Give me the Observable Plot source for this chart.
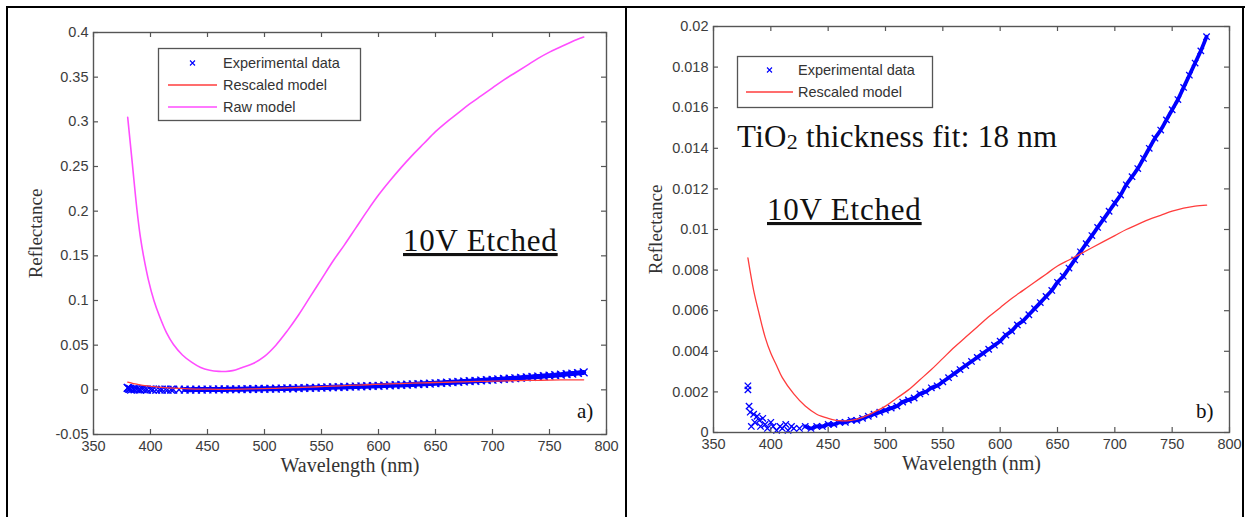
<!DOCTYPE html>
<html><head><meta charset="utf-8">
<script src="https://cdn.jsdelivr.net/npm/d3@7"></script>
<script src="https://cdn.jsdelivr.net/npm/@observablehq/plot@0.6"></script>
<style>
body{margin:0;background:#fff;}
#wrap{position:relative;width:1245px;height:517px;overflow:hidden;background:#fff;}
.panel{position:absolute;top:0;}
.bar{position:absolute;background:#000;z-index:3;}
#ov{position:absolute;left:0;top:0;z-index:2;pointer-events:none;}
</style>
</head><body>
<div id="wrap">
  <div class="panel" id="pa" style="left:0px"></div>
  <div class="panel" id="pb" style="left:627px"></div>
  <div class="bar" style="left:6px;top:6px;width:2px;height:511px"></div>
  <div class="bar" style="left:6px;top:6px;width:1239px;height:2px"></div>
  <div class="bar" style="left:625px;top:6px;width:2px;height:511px"></div>
  <div class="bar" style="left:1242px;top:6px;width:2px;height:511px"></div>
</div>
<script>
// ---------- data ----------
const xTicks = [350, 400, 450, 500, 550, 600, 650, 700, 750, 800];
const yTicksA = [-0.05, 0, 0.05, 0.1, 0.15, 0.2, 0.25, 0.3, 0.35, 0.4];
const yTicksB = [0, 0.002, 0.004, 0.006, 0.008, 0.01, 0.012, 0.014, 0.016, 0.018, 0.02];

// Experimental data (wavelength nm, reflectance)
const expW = [380, 380, 381, 382, 383, 385, 386, 388, 390, 391, 393, 395, 397, 400, 402, 405, 408, 410, 413, 415, 418,
  420, 425, 430, 435, 440, 445, 450, 455, 460, 465, 470, 475, 480, 485, 490, 495, 500,
  505, 510, 515, 520, 525, 530, 535, 540, 545, 550, 555, 560, 565, 570, 575, 580, 585, 590, 595, 600,
  605, 610, 615, 620, 625, 630, 635, 640, 645, 650, 655, 660, 665, 670, 675, 680, 685, 690, 695, 700,
  705, 710, 715, 720, 725, 730, 735, 740, 745, 750, 755, 760, 765, 770, 775, 780];
const expR = [0.0023, 0.0021, 0.0013, 0.0010, 0.0003, 0.0009, 0.0005, 0.0008, 0.0006, 0.0003, 0.0007, 0.0004, 0.0002, 0.0005, 0.0003, 0.0001, 0.0003, 0.0002, 0.0004, 0.0001, 0.0003,
  0.0002, 0.0002, 0.0003, 0.0002, 0.0003, 0.0003, 0.0004, 0.0004, 0.0005, 0.0005, 0.0006, 0.0006, 0.0007, 0.0008, 0.0009, 0.0010, 0.0011,
  0.0012, 0.0013, 0.0015, 0.0016, 0.0017, 0.0019, 0.0020, 0.0022, 0.0023, 0.0025, 0.0027, 0.0029, 0.0031, 0.0033, 0.0035, 0.0037, 0.0039, 0.0041, 0.0043, 0.0045,
  0.0048, 0.0050, 0.0053, 0.0055, 0.0058, 0.0061, 0.0064, 0.0067, 0.0070, 0.0074, 0.0077, 0.0081, 0.0085, 0.0089, 0.0093, 0.0097, 0.0101, 0.0105, 0.0109, 0.0113,
  0.0117, 0.0122, 0.0126, 0.0130, 0.0135, 0.0140, 0.0145, 0.0149, 0.0154, 0.0159, 0.0164, 0.0170, 0.0176, 0.0182, 0.0188, 0.0195];

// Rescaled model
const rescW = [380, 385, 390, 395, 400, 405, 410, 420, 430, 440, 450, 460, 470, 480, 490, 500, 510, 520, 530, 540, 550,
  560, 570, 580, 590, 600, 610, 620, 630, 640, 650, 660, 670, 680, 690, 700, 710, 720, 730, 740, 750, 760, 770, 780];
const rescR = [0.0086, 0.0070, 0.0058, 0.0047, 0.0039, 0.0033, 0.0027, 0.0019, 0.0013, 0.0009, 0.0007, 0.00058, 0.0006, 0.00075, 0.0010, 0.0013, 0.0017, 0.0021, 0.0026, 0.0031, 0.00365,
  0.0042, 0.0047, 0.0052, 0.0057, 0.00615, 0.0066, 0.0070, 0.0074, 0.0078, 0.0082, 0.0085, 0.0088, 0.0091, 0.0094, 0.0097, 0.0100, 0.01025, 0.0105, 0.0107, 0.0109, 0.01105, 0.01115, 0.0112];

// Raw model
const rawW = [380, 384, 388, 391, 394, 398, 403, 408, 414, 420, 428, 436, 444, 452, 460, 466, 472, 480, 490, 500, 510, 520, 530, 540, 550,
  560, 570, 580, 590, 600, 610, 620, 630, 640, 650, 660, 670, 680, 690, 700, 710, 720, 730, 740, 750, 760, 770, 780];
const rawR = [0.305, 0.254, 0.203, 0.172, 0.149, 0.124, 0.100, 0.082, 0.064, 0.051, 0.039, 0.031, 0.025, 0.022, 0.0207, 0.0205, 0.0215, 0.0248, 0.0295, 0.0375, 0.050, 0.066, 0.084, 0.104, 0.124,
  0.144, 0.162, 0.181, 0.200, 0.218, 0.234, 0.249, 0.263, 0.276, 0.289, 0.300, 0.310, 0.320, 0.329, 0.338, 0.347, 0.355, 0.363, 0.371, 0.378, 0.384, 0.390, 0.395];

const legendA = ["Experimental data", "Rescaled model", "Raw model"];
const legendB = ["Experimental data", "Rescaled model"];
const xLabel = "Wavelength (nm)";
const yLabel = "Reflectance";

// ---------- build ----------
const exp = expW.map((w, i) => ({w, r: expR[i]}));
const resc = rescW.map((w, i) => ({w, r: rescR[i]}));
const raw = rawW.map((w, i) => ({w, r: rawR[i]}));

const BLUE = "#0000ff", RED = "#ff3c3c", MAG = "#ff4dff", AX = "#555";
const fmt = d => String(parseFloat((+d).toFixed(4)));
const SANS = "Liberation Sans, Arial, sans-serif";
const SERIF = "Liberation Serif, Times New Roman, serif";

function panel({width, ml, mr, mt, mb, yDomain, yTicks, showRaw, dotR, band}) {
  const y0 = yDomain[0], y1 = yDomain[1];
  const marks = [
    // dense run of experimental markers: drawn as a band through the points plus the markers
    Plot.line(exp, {filter: d => d.w >= 430, x: "w", y: "r", stroke: BLUE, strokeWidth: band, curve: "catmull-rom"}),
    Plot.dot(exp, {x: "w", y: "r", symbol: "times", r: dotR, stroke: BLUE, strokeWidth: 1.3}),
    Plot.line(resc, {x: "w", y: "r", stroke: RED, strokeWidth: 1.3, curve: "catmull-rom"})
  ];
  if (showRaw) marks.push(Plot.line(raw, {x: "w", y: "r", stroke: MAG, strokeWidth: 1.6, curve: "catmull-rom"}));
  marks.push(
    Plot.frame({stroke: AX, strokeWidth: 1.4}),
    // inward ticks (MATLAB style)
    Plot.ruleY(yTicks, {y: d => d, x1: 350, x2: 350, insetRight: -5, stroke: AX, strokeWidth: 1.2}),
    Plot.ruleY(yTicks, {y: d => d, x1: 800, x2: 800, insetLeft: -5, stroke: AX, strokeWidth: 1.2}),
    Plot.ruleX(xTicks, {x: d => d, y1: y0, y2: y0, insetTop: -5, stroke: AX, strokeWidth: 1.2}),
    Plot.ruleX(xTicks, {x: d => d, y1: y1, y2: y1, insetBottom: -5, stroke: AX, strokeWidth: 1.2}),
    Plot.axisX({ticks: xTicks, tickSize: 0, tickPadding: 6, tickFormat: fmt, label: null}),
    Plot.axisY({ticks: yTicks, tickSize: 0, tickPadding: 5, tickFormat: fmt, label: null}),
    Plot.text([xLabel], {text: d => d, frameAnchor: "bottom", dy: 37, fontFamily: SERIF, fontSize: 20, fill: "#333"}),
    Plot.text([yLabel], {text: d => d, frameAnchor: "left", textAnchor: "middle", dx: -58, rotate: -90, fontFamily: SERIF, fontSize: 19, fill: "#333"})
  );
  return Plot.plot({
    width, height: 517,
    marginLeft: ml, marginRight: mr, marginTop: mt, marginBottom: mb,
    x: {domain: [350, 800]},
    y: {domain: yDomain},
    style: {background: "transparent", color: "#3c3c3c", fontFamily: SANS, fontSize: "14.5px"},
    marks
  });
}

document.getElementById("pa").append(panel({width: 627, ml: 93, mr: 21, mt: 32, mb: 83,
  yDomain: [-0.05, 0.4], yTicks: yTicksA, showRaw: true, dotR: 3.6, band: 5}));
document.getElementById("pb").append(panel({width: 618, ml: 86, mr: 16, mt: 26, mb: 85,
  yDomain: [0, 0.02], yTicks: yTicksB, showRaw: false, dotR: 3, band: 3.8}));

// ---------- overlay: legends & annotations ----------
const ov = d3.select("#wrap").append("svg").attr("id", "ov").attr("width", 1245).attr("height", 517);

function legend(x, y, w, h, labels, colors, lineX0, lineX1, textX, rowY) {
  const g = ov.append("g");
  g.append("rect").attr("x", x + 0.5).attr("y", y + 0.5).attr("width", w).attr("height", h)
    .attr("fill", "#fff").attr("stroke", "#555").attr("stroke-width", 1.3);
  labels.forEach((lab, i) => {
    const cy = rowY[i];
    if (i === 0) {
      const mx = (lineX0 + lineX1) / 2;
      g.append("path").attr("d", `M${mx - 2.5},${cy - 2.5}L${mx + 2.5},${cy + 2.5}M${mx - 2.5},${cy + 2.5}L${mx + 2.5},${cy - 2.5}`)
        .attr("stroke", BLUE).attr("stroke-width", 1.1);
    } else {
      g.append("line").attr("x1", lineX0).attr("x2", lineX1).attr("y1", cy).attr("y2", cy)
        .attr("stroke", colors[i]).attr("stroke-width", 1.5);
    }
    g.append("text").attr("x", textX).attr("y", cy).attr("dy", "0.35em")
      .attr("font-family", SANS).attr("font-size", 14.5).attr("fill", "#333").text(lab);
  });
}
legend(158, 48, 202, 72, legendA, [BLUE, RED, MAG], 168, 217, 223, [63, 85, 107]);
legend(737, 56, 195, 51, legendB, [BLUE, RED], 746, 793, 798, [70, 92]);

function serif(x, y, size, txt, underline, ls) {
  const t = ov.append("text").attr("x", x).attr("y", y).attr("font-family", SERIF)
    .attr("font-size", size).attr("fill", "#111").attr("letter-spacing", ls || 0).text(txt);
  if (underline) t.attr("text-decoration", "underline");
  return t;
}
serif(403, 251, 31, "10V Etched", true, 0.8);
serif(767, 220, 31, "10V Etched", true, 0.8);
const ti = ov.append("text").attr("x", 737).attr("y", 147).attr("font-family", SERIF)
  .attr("font-size", 31).attr("letter-spacing", 0.3).attr("fill", "#111");
ti.append("tspan").text("TiO");
ti.append("tspan").attr("font-size", 22).attr("dy", 2).text("2");
ti.append("tspan").attr("dy", -2).text(" thickness fit: 18 nm");
serif(577, 418, 21, "a)", false);
serif(1196, 418, 21, "b)", false);
</script>
</body></html>
